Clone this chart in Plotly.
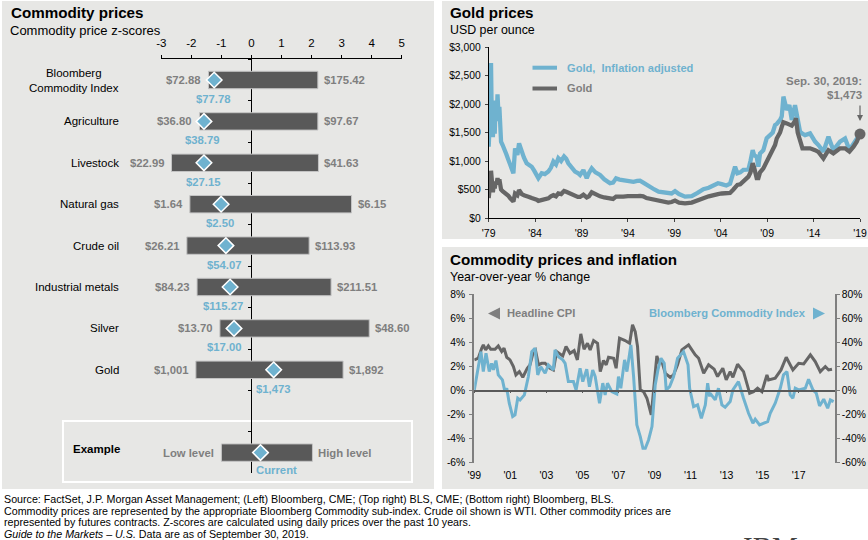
import plotly.graph_objects as go

W, H = 868, 540
FONT = "Liberation Sans"
BLUE = "#6fb2cf"
DARK = "#595959"
LINE_GREY = "#666666"
TEXT_GREY = "#7f7f7f"
PANEL = "#e7e7e5"

# left panel: z-scores
categories = ["Bloomberg<br>Commodity Index", "Agriculture", "Livestock", "Natural gas",
              "Crude oil", "Industrial metals", "Silver", "Gold"]
z_low = [-1.43, -1.73, -2.66, -2.05, -2.15, -1.81, -1.05, -1.85]
z_high = [2.21, 2.21, 2.23, 3.33, 1.92, 2.65, 3.92, 3.05]
z_current = [-1.24, -1.58, -1.58, -1.01, -0.85, -0.71, -0.58, 0.74]
low_labels = ["$72.88", "$36.80", "$22.99", "$1.64", "$26.21", "$84.23", "$13.70", "$1,001"]
high_labels = ["$175.42", "$97.67", "$41.63", "$6.15", "$113.93", "$211.51", "$48.60", "$1,892"]
current_labels = ["$77.78", "$38.79", "$27.15", "$2.50", "$54.07", "$115.27", "$17.00", "$1,473"]

example_z = [-1.0, 0.30, 2.03]
z_ticks = [-3, -2, -1, 0, 1, 2, 3, 4, 5]

# top right: gold
gold_years = [
    1979.00, 1979.05, 1979.10, 1979.15, 1979.20, 1979.25, 1979.30, 1979.38, 1979.45, 1979.55,
    1979.65, 1979.75, 1979.85, 1979.95, 1980.05, 1980.15, 1980.25, 1980.33, 1980.50, 1980.69,
    1980.90, 1981.12, 1981.30, 1981.50, 1981.66, 1981.84, 1982.09, 1982.27, 1982.56, 1982.80,
    1983.09, 1983.35, 1983.63, 1983.90, 1984.17, 1984.35, 1984.71, 1985.05, 1985.43, 1985.70,
    1985.97, 1986.25, 1986.50, 1986.80, 1987.12, 1987.35, 1987.58, 1987.95, 1988.30, 1988.60,
    1988.84, 1989.20, 1989.56, 1989.80, 1990.10, 1990.50, 1991.00, 1991.45, 1991.90, 1992.07,
    1992.40, 1992.72, 1993.10, 1993.50, 1994.00, 1994.60, 1995.00, 1995.30, 1995.65, 1996.00,
    1996.40, 1996.85, 1997.30, 1997.80, 1998.35, 1998.70, 1999.07, 1999.50, 2000.15, 2000.87,
    2001.50, 2002.13, 2002.70, 2003.20, 2003.70, 2004.10, 2004.60, 2005.00, 2005.36, 2005.54,
    2005.79, 2006.10, 2006.44, 2006.98, 2007.20, 2007.44, 2007.60, 2007.87, 2008.05, 2008.23,
    2008.59, 2008.95, 2009.31, 2009.60, 2009.85, 2010.03, 2010.39, 2010.57, 2010.75, 2011.11,
    2011.39, 2011.65, 2012.00, 2012.10, 2012.29, 2012.54, 2012.80, 2013.08, 2013.62, 2014.16,
    2014.52, 2015.06, 2015.60, 2016.13, 2016.85, 2017.39, 2017.86, 2018.30, 2018.65, 2019.00,
]
gold_real = [
    1250, 1480, 1300, 1850, 1550, 2720, 2100, 1720, 1420, 1780,
    1480, 2060, 1700, 2170, 1820, 1950, 1450, 1340, 1280, 1220,
    1120, 1020, 950, 880, 785, 1220, 1105, 1310, 1135, 1060,
    960, 940, 900, 830, 755, 700, 785, 770, 815, 880,
    990, 940, 1050, 1000, 1080, 1040, 960, 890, 815, 790,
    755, 840, 700, 790, 870, 800, 755, 680, 640, 610,
    620, 695, 675, 665, 650, 635, 650, 655, 620, 580,
    540, 500, 462, 450, 445, 430, 470, 420, 375, 385,
    440, 505, 530, 560, 610, 595, 570, 600, 845, 900,
    785, 800, 845, 850, 1000, 1190, 1100, 1075, 900, 1130,
    1190, 1400, 1455, 1500, 1630, 1650, 1720, 1780, 2130, 1895,
    1980, 1720, 1980, 1900, 1800, 1515, 1480, 1455, 1485, 1340,
    1280, 1165, 1425, 1190, 1340, 1395, 1195, 1300, 1370, 1473,
]
gold_nominal = [
    350, 430, 380, 600, 500, 830, 650, 540, 450, 590,
    520, 640, 590, 700, 620, 680, 540, 500, 470, 450,
    420, 390, 350, 320, 290, 430, 400, 490, 420, 400,
    390, 370, 350, 340, 320, 300, 320, 320, 345, 380,
    400, 380, 430, 420, 475, 460, 440, 420, 390, 370,
    370, 410, 360, 380, 450, 410, 380, 360, 350, 330,
    335, 375, 372, 375, 385, 375, 385, 388, 380, 350,
    335, 320, 300, 290, 270, 280, 305, 270, 258, 270,
    300, 345, 380, 405, 420, 430, 440, 440, 500, 540,
    580, 590, 640, 725, 800, 960, 880, 700, 700, 800,
    870, 980, 1075, 1170, 1280, 1395, 1500, 1600, 1680, 1660,
    1640, 1620, 1700, 1750, 1500, 1370, 1222, 1222, 1222, 1190,
    1160, 1045, 1190, 1135, 1222, 1222, 1165, 1250, 1340, 1473,
]
gold_tick_years = [1979, 1984, 1989, 1994, 1999, 2004, 2009, 2014, 2019]
gold_tick_labels = ["'79", "'84", "'89", "'94", "'99", "'04", "'09", "'14", "'19"]
gold_y_ticks = [0, 500, 1000, 1500, 2000, 2500, 3000]
gold_y_labels = ["$0", "$500", "$1,000", "$1,500", "$2,000", "$2,500", "$3,000"]
gold_latest = 1473

# bottom right: CPI and BCOM
cpi_years = [
    1999.00, 1999.22, 1999.41, 1999.50, 1999.63, 1999.78, 1999.91, 2000.15, 2000.33, 2000.52,
    2000.65, 2000.80, 2000.98, 2001.17, 2001.31, 2001.50, 2001.69, 2001.94, 2002.09, 2002.28,
    2002.39, 2002.56, 2002.74, 2002.93, 2003.20, 2003.39, 2003.57, 2003.72, 2003.91, 2004.09,
    2004.31, 2004.54, 2004.72, 2004.91, 2005.09, 2005.28, 2005.43, 2005.62, 2005.84, 2005.99,
    2006.17, 2006.32, 2006.45, 2006.73, 2006.87, 2007.06, 2007.37, 2007.62, 2007.78, 2007.93,
    2008.06, 2008.21, 2008.39, 2008.58, 2008.82, 2009.13, 2009.26, 2009.41, 2009.60, 2009.87,
    2010.06, 2010.28, 2010.52, 2010.89, 2011.26, 2011.45, 2011.73, 2012.00, 2012.31, 2012.50,
    2012.79, 2012.98, 2013.20, 2013.35, 2013.61, 2013.94, 2014.28, 2014.50, 2014.72, 2014.96,
    2015.24, 2015.33, 2015.70, 2016.02, 2016.31, 2016.68, 2017.00, 2017.28, 2017.65, 2017.92,
    2018.20, 2018.48, 2018.66, 2018.85,
]
cpi = [
    2.53, 2.67, 3.50, 3.78, 3.36, 3.69, 3.42, 3.42, 3.69, 3.22,
    3.50, 2.75, 2.53, 1.98, 1.29, 1.56, 1.09, 1.84, 2.12, 3.22,
    3.36, 2.12, 2.25, 2.25, 1.84, 1.70, 3.22, 3.08, 2.86, 3.64,
    3.08, 3.30, 2.53, 4.69, 3.42, 3.91, 3.36, 4.14, 3.91, 1.56,
    2.48, 2.12, 2.75, 2.67, 1.84, 4.33, 4.14, 3.91, 5.44, 4.88,
    3.64, 0.04, -0.10, -0.65, -2.03, 2.86, 2.25, 2.39, 1.42, 1.09,
    1.29, 2.12, 3.36, 3.78, 2.95, 2.67, 1.42, 2.12, 1.76, 1.15,
    1.84, 0.87, 1.56, 1.09, 2.17, 1.56, -0.24, -0.10, 0.18, -0.10,
    1.29, 0.87, 1.01, 1.70, 2.75, 1.70, 2.25, 2.20, 2.95, 2.39,
    1.56, 1.98, 1.70, 1.76,
]
bcom_years = [
    1999.00, 1999.13, 1999.37, 1999.50, 1999.65, 1999.83, 1999.96, 2000.06, 2000.20, 2000.33,
    2000.56, 2000.70, 2000.80, 2000.94, 2001.13, 2001.26, 2001.41, 2001.54, 2001.78, 2002.00,
    2002.19, 2002.37, 2002.52, 2002.69, 2002.93, 2003.11, 2003.39, 2003.48, 2003.67, 2003.91,
    2004.04, 2004.22, 2004.50, 2004.65, 2004.87, 2005.02, 2005.24, 2005.39, 2005.57, 2005.71,
    2005.95, 2006.13, 2006.26, 2006.39, 2006.63, 2006.91, 2007.00, 2007.13, 2007.34, 2007.47,
    2007.69, 2007.84, 2008.02, 2008.21, 2008.36, 2008.49, 2008.67, 2008.86, 2009.04, 2009.19,
    2009.36, 2009.54, 2009.65, 2009.84, 2010.06, 2010.28, 2010.61, 2010.86, 2010.95, 2011.17,
    2011.39, 2011.60, 2011.82, 2011.95, 2012.06, 2012.09, 2012.37, 2012.55, 2012.74, 2012.92,
    2013.20, 2013.35, 2013.66, 2013.94, 2014.22, 2014.46, 2014.59, 2014.83, 2015.09, 2015.28,
    2015.42, 2015.70, 2015.98, 2016.16, 2016.35, 2016.53, 2016.68, 2016.81, 2017.00, 2017.37,
    2017.55, 2017.79, 2017.98, 2018.16, 2018.39, 2018.61, 2018.76, 2018.94,
]
bcom = [
    0.4, 11.5, 32.2, 15.6, 30.8, 15.6, 22.5, 17.0, 24.8, 12.9,
    8.7, -1.0, 1.8, -10.6, -21.7, -20.3, -6.5, -8.0, -3.7, 11.5,
    32.2, 35.0, 12.9, 19.6, 14.2, 21.2, 17.0, 33.6, 28.0, 25.3,
    22.5, 7.3, 7.3, 0.4, 18.4, 7.3, 17.5, 3.0, 17.0, 11.5,
    -10.6, 6.0, -3.7, 6.0, -1.0, -3.0, 11.5, 1.8, 25.3, 15.6,
    37.8, 11.5, -28.6, -38.3, -48.0, -48.0, -41.1, -30.0, 4.6, 17.0,
    26.7, 22.5, 0.4, 3.2, 11.5, 26.7, 32.2, 21.2, 1.8, -13.4,
    -12.0, -23.1, -12.0, 6.0, -5.0, -2.4, -7.9, 1.8, -12.0, -14.0,
    -9.3, 0.4, 7.3, -6.5, -19.0, -27.2, -23.9, -28.6, -27.2, -25.9,
    -19.0, -10.6, 1.8, 12.9, 15.6, -3.7, -6.5, 1.8, 0.4, 1.8,
    9.3, 0.4, -2.4, -12.9, -7.3, -14.8, -7.9, -9.3,
]
cpi_tick_years = [1999, 2001, 2003, 2005, 2007, 2009, 2011, 2013, 2015, 2017]
cpi_tick_labels = ["'99", "'01", "'03", "'05", "'07", "'09", "'11", "'13", "'15", "'17"]
cpi_y_ticks = [-6, -4, -2, 0, 2, 4, 6, 8]
bcom_y_ticks = [-60, -40, -20, 0, 20, 40, 60, 80]

footnotes = [
    "Source: FactSet, J.P. Morgan Asset Management; (Left) Bloomberg, CME; (Top right) BLS, CME; (Bottom right) Bloomberg, BLS.",
    "Commodity prices are represented by the appropriate Bloomberg Commodity sub-index. Crude oil shown is WTI. Other commodity prices are",
    "represented by futures contracts. Z-scores are calculated using daily prices over the past 10 years.",
    "<i>Guide to the Markets – U.S.</i> Data are as of September 30, 2019.",
]


def px_x(x):
    return x / W


def px_y(y):
    return 1 - y / H


def label(x, y, text, size=11.3, color="black", anchor="left", bold=False, align=None):
    # annotations carry about 2px of padding
    x = x - 2 if anchor == "left" else x + 2
    return dict(x=px_x(x), y=px_y(y), xref="paper", yref="paper", text=f"<b>{text}</b>" if bold else text,
                showarrow=False, xanchor=anchor, yanchor="middle", align=align or anchor,
                font=dict(family=FONT, size=size, color=color))


rows = categories + [" ", "Example"]
bar_y = categories + ["Example"]
lows = z_low + example_z[:1]
highs = z_high + example_z[2:]
currents = z_current + example_z[1:2]

fig = go.Figure()
fig.add_trace(go.Bar(y=bar_y, x=[h - l for h, l in zip(highs, lows)], base=lows, orientation="h", width=0.42,
                     marker=dict(color=DARK, line=dict(color="#c4c4c4", width=1)),
                     xaxis="x", yaxis="y"))
fig.add_trace(go.Scatter(y=bar_y, x=currents, mode="markers",
                         marker=dict(symbol="diamond", size=12, color=BLUE, line=dict(color="white", width=1.5)),
                         xaxis="x", yaxis="y"))
fig.add_trace(go.Scatter(x=gold_years, y=gold_real, mode="lines", line=dict(color=BLUE, width=4.3),
                         xaxis="x2", yaxis="y2"))
fig.add_trace(go.Scatter(x=gold_years, y=gold_nominal, mode="lines", line=dict(color=LINE_GREY, width=4.3),
                         xaxis="x2", yaxis="y2"))
fig.add_trace(go.Scatter(x=gold_years[-1:], y=[gold_latest], mode="markers", cliponaxis=False,
                         marker=dict(size=11, color=LINE_GREY), xaxis="x2", yaxis="y2"))
fig.add_trace(go.Scatter(x=cpi_years, y=cpi, mode="lines", line=dict(color=LINE_GREY, width=3),
                         xaxis="x3", yaxis="y3"))
fig.add_trace(go.Scatter(x=bcom_years, y=bcom, mode="lines", line=dict(color=BLUE, width=3),
                         xaxis="x4", yaxis="y4"))

shapes = [
    dict(type="rect", xref="paper", yref="paper", x0=px_x(2), x1=px_x(434), y0=px_y(489), y1=px_y(1),
         fillcolor=PANEL, line_width=0, layer="below"),
    dict(type="rect", xref="paper", yref="paper", x0=px_x(442), x1=1, y0=px_y(239), y1=px_y(1),
         fillcolor=PANEL, line_width=0, layer="below"),
    dict(type="rect", xref="paper", yref="paper", x0=px_x(442), x1=1, y0=px_y(489), y1=px_y(247),
         fillcolor=PANEL, line_width=0, layer="below"),
    # example box
    dict(type="rect", xref="paper", yref="paper", x0=px_x(63), x1=px_x(412), y0=px_y(482), y1=px_y(421),
         line=dict(color="white", width=2), layer="below"),
    # legend keys on the gold chart
    dict(type="line", xref="paper", yref="paper", x0=px_x(532.5), x1=px_x(557), y0=px_y(67.7), y1=px_y(67.7),
         line=dict(color=BLUE, width=4)),
    dict(type="line", xref="paper", yref="paper", x0=px_x(532.5), x1=px_x(557), y0=px_y(88.5), y1=px_y(88.5),
         line=dict(color=LINE_GREY, width=4)),
    # direction triangles
    dict(type="path", xref="paper", yref="paper", line_width=0, fillcolor=TEXT_GREY,
         path=f"M {px_x(488)} {px_y(313.5)} L {px_x(500)} {px_y(307.5)} L {px_x(500)} {px_y(319.5)} Z"),
    dict(type="path", xref="paper", yref="paper", line_width=0, fillcolor=BLUE,
         path=f"M {px_x(825)} {px_y(313.5)} L {px_x(813)} {px_y(307.5)} L {px_x(813)} {px_y(319.5)} Z"),
]

annotations = [
    label(10.7, 13, "Commodity prices", 15.2, bold=True),
    label(9.7, 30, "Commodity price z-scores", 13),
    label(450.3, 13, "Gold prices", 15.2, bold=True),
    label(449.5, 30, "USD per ounce", 12.4),
    label(450.3, 260, "Commodity prices and inflation", 15.2, bold=True),
    label(449.5, 277, "Year-over-year % change", 12.4),
    label(567, 67.7, "Gold,  Inflation adjusted", 11.1, BLUE, bold=True),
    label(567, 88.5, "Gold", 11.1, TEXT_GREY, bold=True),
    label(862, 80.5, "Sep. 30, 2019:", 11.5, TEXT_GREY, anchor="right", bold=True),
    label(862, 95, "$1,473", 11.5, TEXT_GREY, anchor="right", bold=True),
    label(506.7, 313, "Headline CPI", 11.2, TEXT_GREY, bold=True),
    label(805.7, 313, "Bloomberg Commodity Index", 11.2, BLUE, anchor="right", bold=True),
    label(72.7, 449, "Example", 11.5, bold=True),
    # cropped text at the page edge
    dict(x=px_x(770), y=px_y(529), xref="paper", yref="paper", text="IBM", showarrow=False, xanchor="center",
         yanchor="top", font=dict(family="Liberation Serif", size=29, color="#444444")),
    dict(x=2019, y=1700, xref="x2", yref="y2", ax=0, ay=-17, axref="pixel", ayref="pixel", text="", showarrow=True,
         arrowhead=2, arrowsize=1, arrowwidth=1.2, arrowcolor=LINE_GREY),
]

for cat in categories:
    annotations.append(dict(x=px_x(121), y=cat, xref="paper", yref="y", text=cat, showarrow=False,
                            xanchor="right", align="center",
                            font=dict(family=FONT, size=11.5, color="black")))

# price labels beside the bars, low/current shifts keep labels off the axis
current_shift = [-1, -1, 0, -1, -1, -7, -10, 0, 16]
bar_low_labels = low_labels + ["Low level"]
bar_high_labels = high_labels + ["High level"]
bar_current_labels = current_labels + ["Current"]
for i, cat in enumerate(bar_y):
    font_grey = dict(family=FONT, size=11.3, color=TEXT_GREY)
    font_blue = dict(family=FONT, size=11.3, color=BLUE)
    annotations.append(dict(x=lows[i], y=cat, xref="x", yref="y", text=f"<b>{bar_low_labels[i]}</b>",
                            showarrow=False, xanchor="right", xshift=-5, font=font_grey))
    annotations.append(dict(x=highs[i], y=cat, xref="x", yref="y", text=f"<b>{bar_high_labels[i]}</b>",
                            showarrow=False, xanchor="left", xshift=4, font=font_grey))
    annotations.append(dict(x=currents[i], y=cat, xref="x", yref="y", text=f"<b>{bar_current_labels[i]}</b>",
                            showarrow=False, xanchor="center", xshift=current_shift[i], yshift=-19 if i < 8 else -17.5,
                            font=font_blue))

foot_y = [499, 510.7, 522, 534]
for y, line in zip(foot_y, footnotes):
    annotations.append(label(4, y, line, 10.7))

fig.update_layout(
    template="none",
    width=W, height=H, margin=dict(l=0, r=0, t=0, b=0), autosize=False,
    paper_bgcolor="white", plot_bgcolor="rgba(0,0,0,0)", showlegend=False, barmode="overlay",
    font=dict(family=FONT, color="black"),
    shapes=shapes, annotations=annotations,
    # z-scores
    xaxis=dict(domain=[px_x(161.3), px_x(401.7)], range=[-3, 5], side="top", anchor="y",
               tickvals=z_ticks, ticktext=[str(v) for v in z_ticks], ticks="outside", ticklen=3, tickcolor="black",
               linecolor="black", linewidth=1, showline=True, showgrid=False, zeroline=False, ticklabelstandoff=4,
               tickfont=dict(size=11.5, color="black")),
    yaxis=dict(domain=[px_y(473.3), px_y(59.3)], type="category", categoryorder="array", categoryarray=rows,
               range=[9.5, -0.5], anchor="free", position=px_x(251.45), tickson="boundaries", ticks="outside",
               ticklen=3, tickcolor="black", linecolor="black", linewidth=1, showline=True, showgrid=False,
               zeroline=False, showticklabels=False, layer="below traces"),
    # gold
    xaxis2=dict(domain=[px_x(488.7), px_x(860)], range=[1979, 2019], anchor="y2", tickvals=gold_tick_years,
                ticktext=gold_tick_labels, ticks="outside", ticklen=3, linecolor="black", showline=True,
                showgrid=False, zeroline=False, ticklabelstandoff=2, tickfont=dict(size=10.5, color="black")),
    yaxis2=dict(domain=[px_y(218), px_y(47)], range=[0, 3000], anchor="x2", tickvals=gold_y_ticks,
                ticktext=gold_y_labels, ticks="outside", ticklen=3, linecolor="black", showline=True,
                showgrid=False, zeroline=False, ticklabelstandoff=2, tickfont=dict(size=10.3, color="black")),
    # cpi and commodity index
    xaxis3=dict(domain=[px_x(474.3), px_x(834.7)], range=[1999, 2019], anchor="y3", tickvals=cpi_tick_years,
                ticktext=cpi_tick_labels, ticks="", showline=False, showgrid=False, zeroline=False,
                ticklabelstandoff=5, tickfont=dict(size=10.5, color="black")),
    yaxis3=dict(domain=[px_y(462.7), px_y(294)], range=[-6, 8], anchor="x3", tickvals=cpi_y_ticks,
                ticktext=[f"{v}%" for v in cpi_y_ticks], ticks="outside", ticklen=3, tickcolor=TEXT_GREY,
                linecolor=TEXT_GREY, linewidth=2, showline=True, showgrid=False, zeroline=False,
                ticklabelstandoff=2, tickfont=dict(size=10.3, color="black")),
    xaxis4=dict(domain=[px_x(474.3), px_x(834.7)], range=[1999, 2019], overlaying="x3", anchor="free",
                position=px_y(390.5), tickvals=cpi_tick_years, showticklabels=False, ticks="outside", ticklen=2,
                tickcolor=DARK, linecolor=DARK, linewidth=1.5, showline=True, showgrid=False, zeroline=False),
    yaxis4=dict(domain=[px_y(462.7), px_y(294)], range=[-60, 80], overlaying="y3", anchor="x4", side="right",
                tickvals=bcom_y_ticks, ticktext=[f"{v}%" for v in bcom_y_ticks], ticks="outside", ticklen=3,
                tickcolor=TEXT_GREY, linecolor=TEXT_GREY, linewidth=2, showline=True, showgrid=False,
                zeroline=False, tickfont=dict(size=10.3, color="black")),
)

fig.write_html("out.html", config={"displayModeBar": False}, post_script="document.body.style.margin='0';")
